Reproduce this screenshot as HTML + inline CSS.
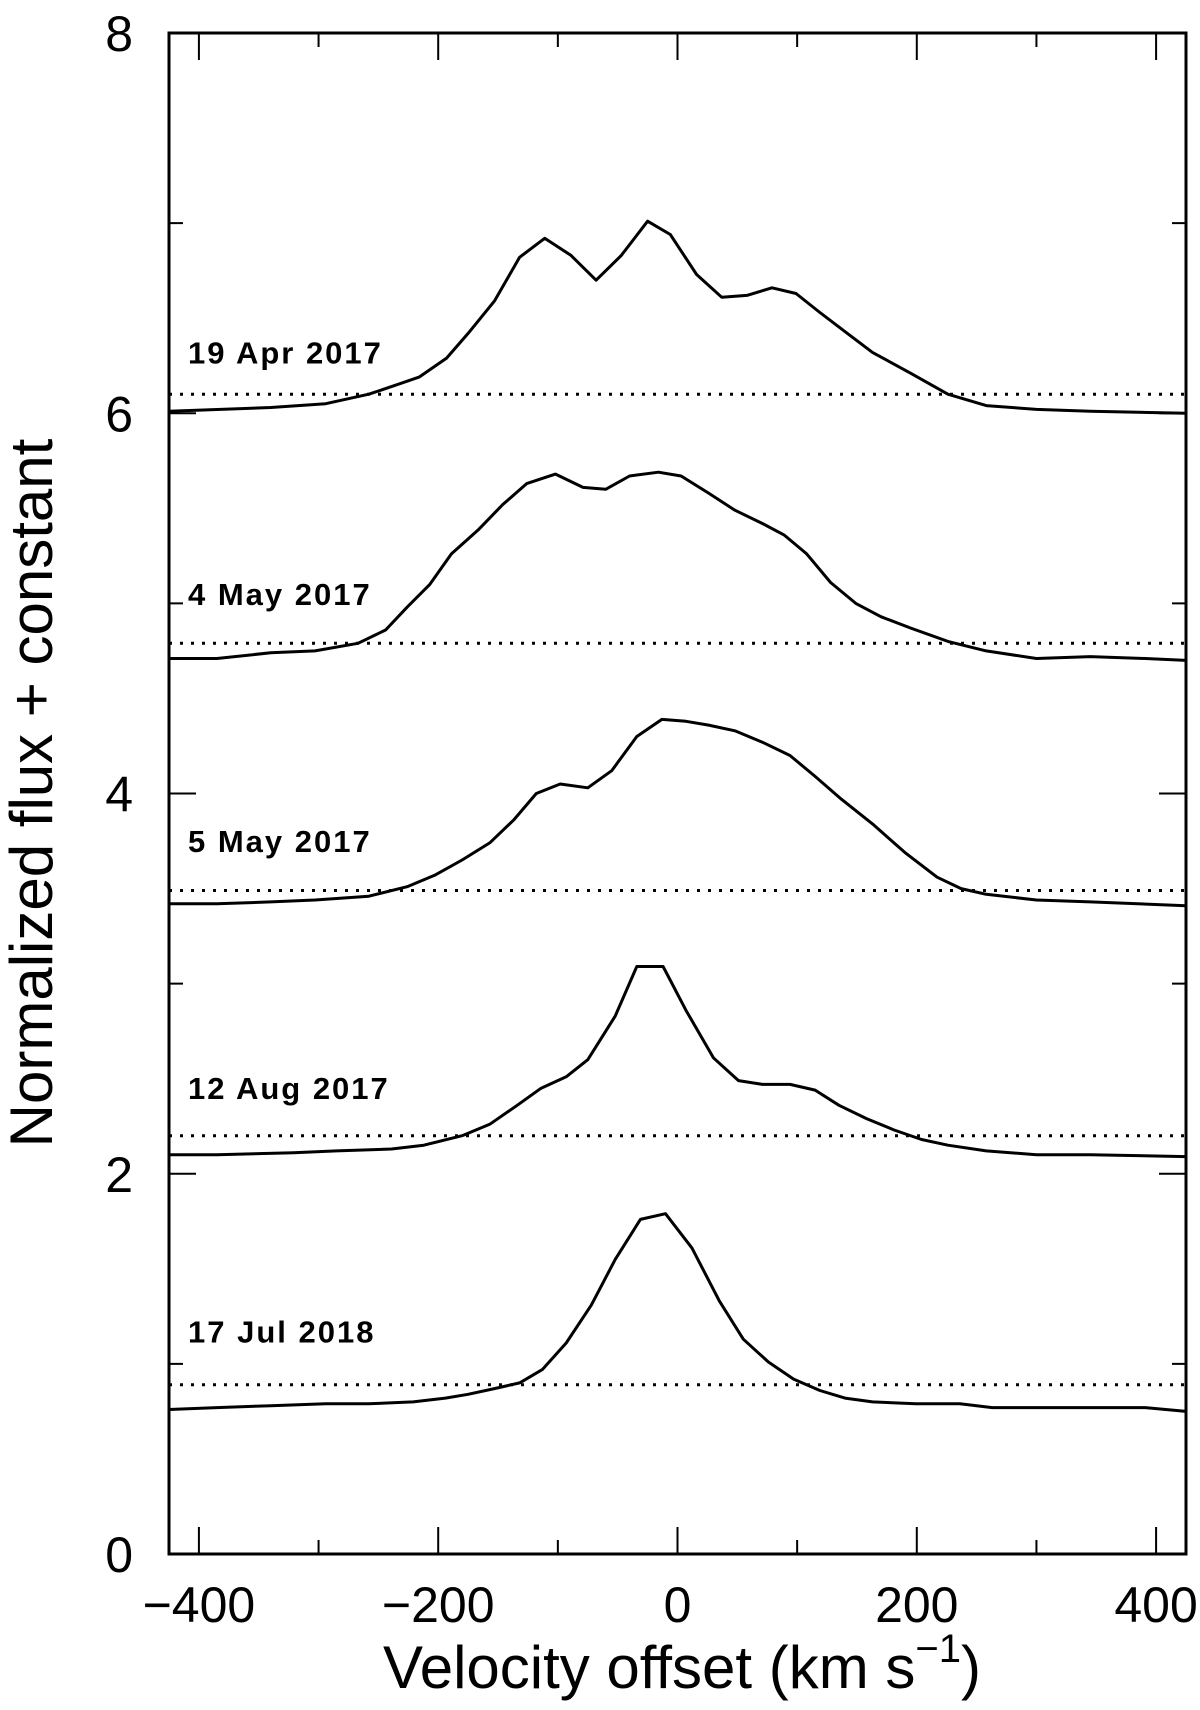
<!DOCTYPE html>
<html><head><meta charset="utf-8"><style>
body{margin:0;background:#fff}
svg text{font-family:"Liberation Sans",sans-serif;fill:#000}
</style></head><body>
<svg id="chart" width="1200" height="1705" viewBox="0 0 1200 1705" xmlns="http://www.w3.org/2000/svg">
<rect x="169" y="33" width="1017" height="1521" fill="none" stroke="#000" stroke-width="3"/>
<g id="ticks"></g>
<g id="series"></g>
<text transform="translate(52,793) rotate(-90)" text-anchor="middle" font-size="60">Normalized flux + constant</text>
<text x="682" y="1688" text-anchor="middle" font-size="60">Velocity offset (km s<tspan dy="-26" font-size="40">−1</tspan><tspan dy="26">)</tspan></text>
</svg>
<script>
const xTicksMajor=[-400,-200,0,200,400];
const xTicksMinor=[-300,-100,100,300];
const yTicksMajor=[0,2,4,6,8];
const yTicksMinor=[1,3,5,7];
const labels=["19 Apr 2017","4 May 2017","5 May 2017","12 Aug 2017","17 Jul 2018"];
const baselines=[6.10,4.79,3.49,2.20,0.89];
const labelY=[6.32,5.05,3.75,2.45,1.17];
const v1=[-425,-340,-294,-258,-239,-216,-193,-175,-153,-132,-111,-89,-68,-47,-25,-6,16,37,58,79,99,119,142,163,195,226,258,300,345,425];
const f1=[6.01,6.03,6.05,6.10,6.14,6.19,6.29,6.42,6.59,6.82,6.92,6.83,6.70,6.83,7.01,6.94,6.73,6.61,6.62,6.66,6.63,6.53,6.42,6.32,6.21,6.10,6.04,6.02,6.01,6.00];
const v2=[-425,-385,-340,-303,-267,-244,-226,-207,-189,-166,-146,-126,-102,-79,-60,-40,-16,3,26,48,71,89,108,128,149,170,195,226,258,300,345,391,425];
const f2=[4.71,4.71,4.74,4.75,4.79,4.86,4.98,5.10,5.26,5.39,5.52,5.63,5.68,5.61,5.60,5.67,5.69,5.67,5.58,5.49,5.42,5.36,5.26,5.11,5.00,4.93,4.87,4.80,4.75,4.71,4.72,4.71,4.70];
const v3=[-425,-385,-340,-303,-258,-226,-203,-180,-157,-137,-118,-98,-75,-55,-34,-13,7,26,48,71,94,115,137,163,190,217,237,258,300,345,425];
const f3=[3.42,3.42,3.43,3.44,3.46,3.51,3.57,3.65,3.74,3.86,4.00,4.05,4.03,4.12,4.30,4.39,4.38,4.36,4.33,4.27,4.20,4.09,3.97,3.84,3.69,3.56,3.50,3.47,3.44,3.43,3.41];
const v4=[-425,-385,-321,-285,-239,-212,-180,-157,-134,-114,-93,-75,-52,-34,-12,7,30,51,71,94,115,135,158,181,204,226,258,300,345,425];
const f4=[2.10,2.10,2.11,2.12,2.13,2.15,2.20,2.26,2.36,2.45,2.51,2.60,2.83,3.09,3.09,2.86,2.61,2.49,2.47,2.47,2.44,2.36,2.29,2.23,2.18,2.15,2.12,2.10,2.10,2.09];
const v5=[-425,-385,-340,-294,-258,-221,-194,-175,-153,-132,-113,-93,-72,-52,-31,-10,12,35,55,76,97,119,140,163,199,236,263,300,345,391,425];
const f5=[0.76,0.77,0.78,0.79,0.79,0.80,0.82,0.84,0.87,0.90,0.97,1.11,1.31,1.55,1.76,1.79,1.61,1.33,1.13,1.01,0.92,0.86,0.82,0.80,0.79,0.79,0.77,0.77,0.77,0.77,0.75];
const VS=[v1,v2,v3,v4,v5], FS=[f1,f2,f3,f4,f5];
const L=169,R=1186,T=33,B=1554;
const sx=v=>L+(v+425)/850*(R-L);
const sy=f=>B-f/8*(B-T);
const NS="http://www.w3.org/2000/svg";
const tg=document.getElementById('ticks'), sg=document.getElementById('series');
function line(g,x1,y1,x2,y2,w,dash){const l=document.createElementNS(NS,'line');l.setAttribute('x1',x1);l.setAttribute('y1',y1);l.setAttribute('x2',x2);l.setAttribute('y2',y2);l.setAttribute('stroke','#000');l.setAttribute('stroke-width',w);if(dash)l.setAttribute('stroke-dasharray',dash);g.appendChild(l);return l;}
function text(x,y,s,size,anchor,weight){const t=document.createElementNS(NS,'text');t.setAttribute('x',x);t.setAttribute('y',y);t.setAttribute('font-size',size);t.setAttribute('text-anchor',anchor);if(weight)t.setAttribute('font-weight',weight);t.textContent=s;document.getElementById('chart').appendChild(t);return t;}
xTicksMajor.forEach(v=>{const x=sx(v);
 let a=line(tg,x,B,x,B-27,2);
 let b=line(tg,x,T,x,T+27,2);
 let t=text(x,1622,(v<0?'\u2212':'')+Math.abs(v),50,'middle');});
xTicksMinor.forEach(v=>{const x=sx(v);
 let a=line(tg,x,B,x,B-14,2);
 let b=line(tg,x,T,x,T+14,2);});
yTicksMajor.forEach(f=>{const y=sy(f);
 let a=line(tg,L,y,L+27,y,2);
 let b=line(tg,R,y,R-27,y,2);
 let t=text(133,y+18,String(f),50,'end');});
yTicksMinor.forEach(f=>{const y=sy(f);
 let a=line(tg,L,y,L+14,y,2);
 let b=line(tg,R,y,R-14,y,2);});
VS.forEach((vs,i)=>{
 const p=document.createElementNS(NS,'path');
 p.setAttribute('d',vs.map((v,j)=>(j?'L':'M')+sx(v).toFixed(1)+' '+sy(FS[i][j]).toFixed(1)).join(' '));
 p.setAttribute('fill','none');p.setAttribute('stroke','#000');p.setAttribute('stroke-width','3');p.setAttribute('stroke-linejoin','round');
 
 
 sg.appendChild(p);
 const d=line(sg,L,sy(baselines[i]),R,sy(baselines[i]),3,'3 8');
 
 
 const t=text(188,sy(labelY[i])+11,labels[i],31,'start','bold');
 t.setAttribute('letter-spacing','2');
 
 
});
</script>
</body></html>
